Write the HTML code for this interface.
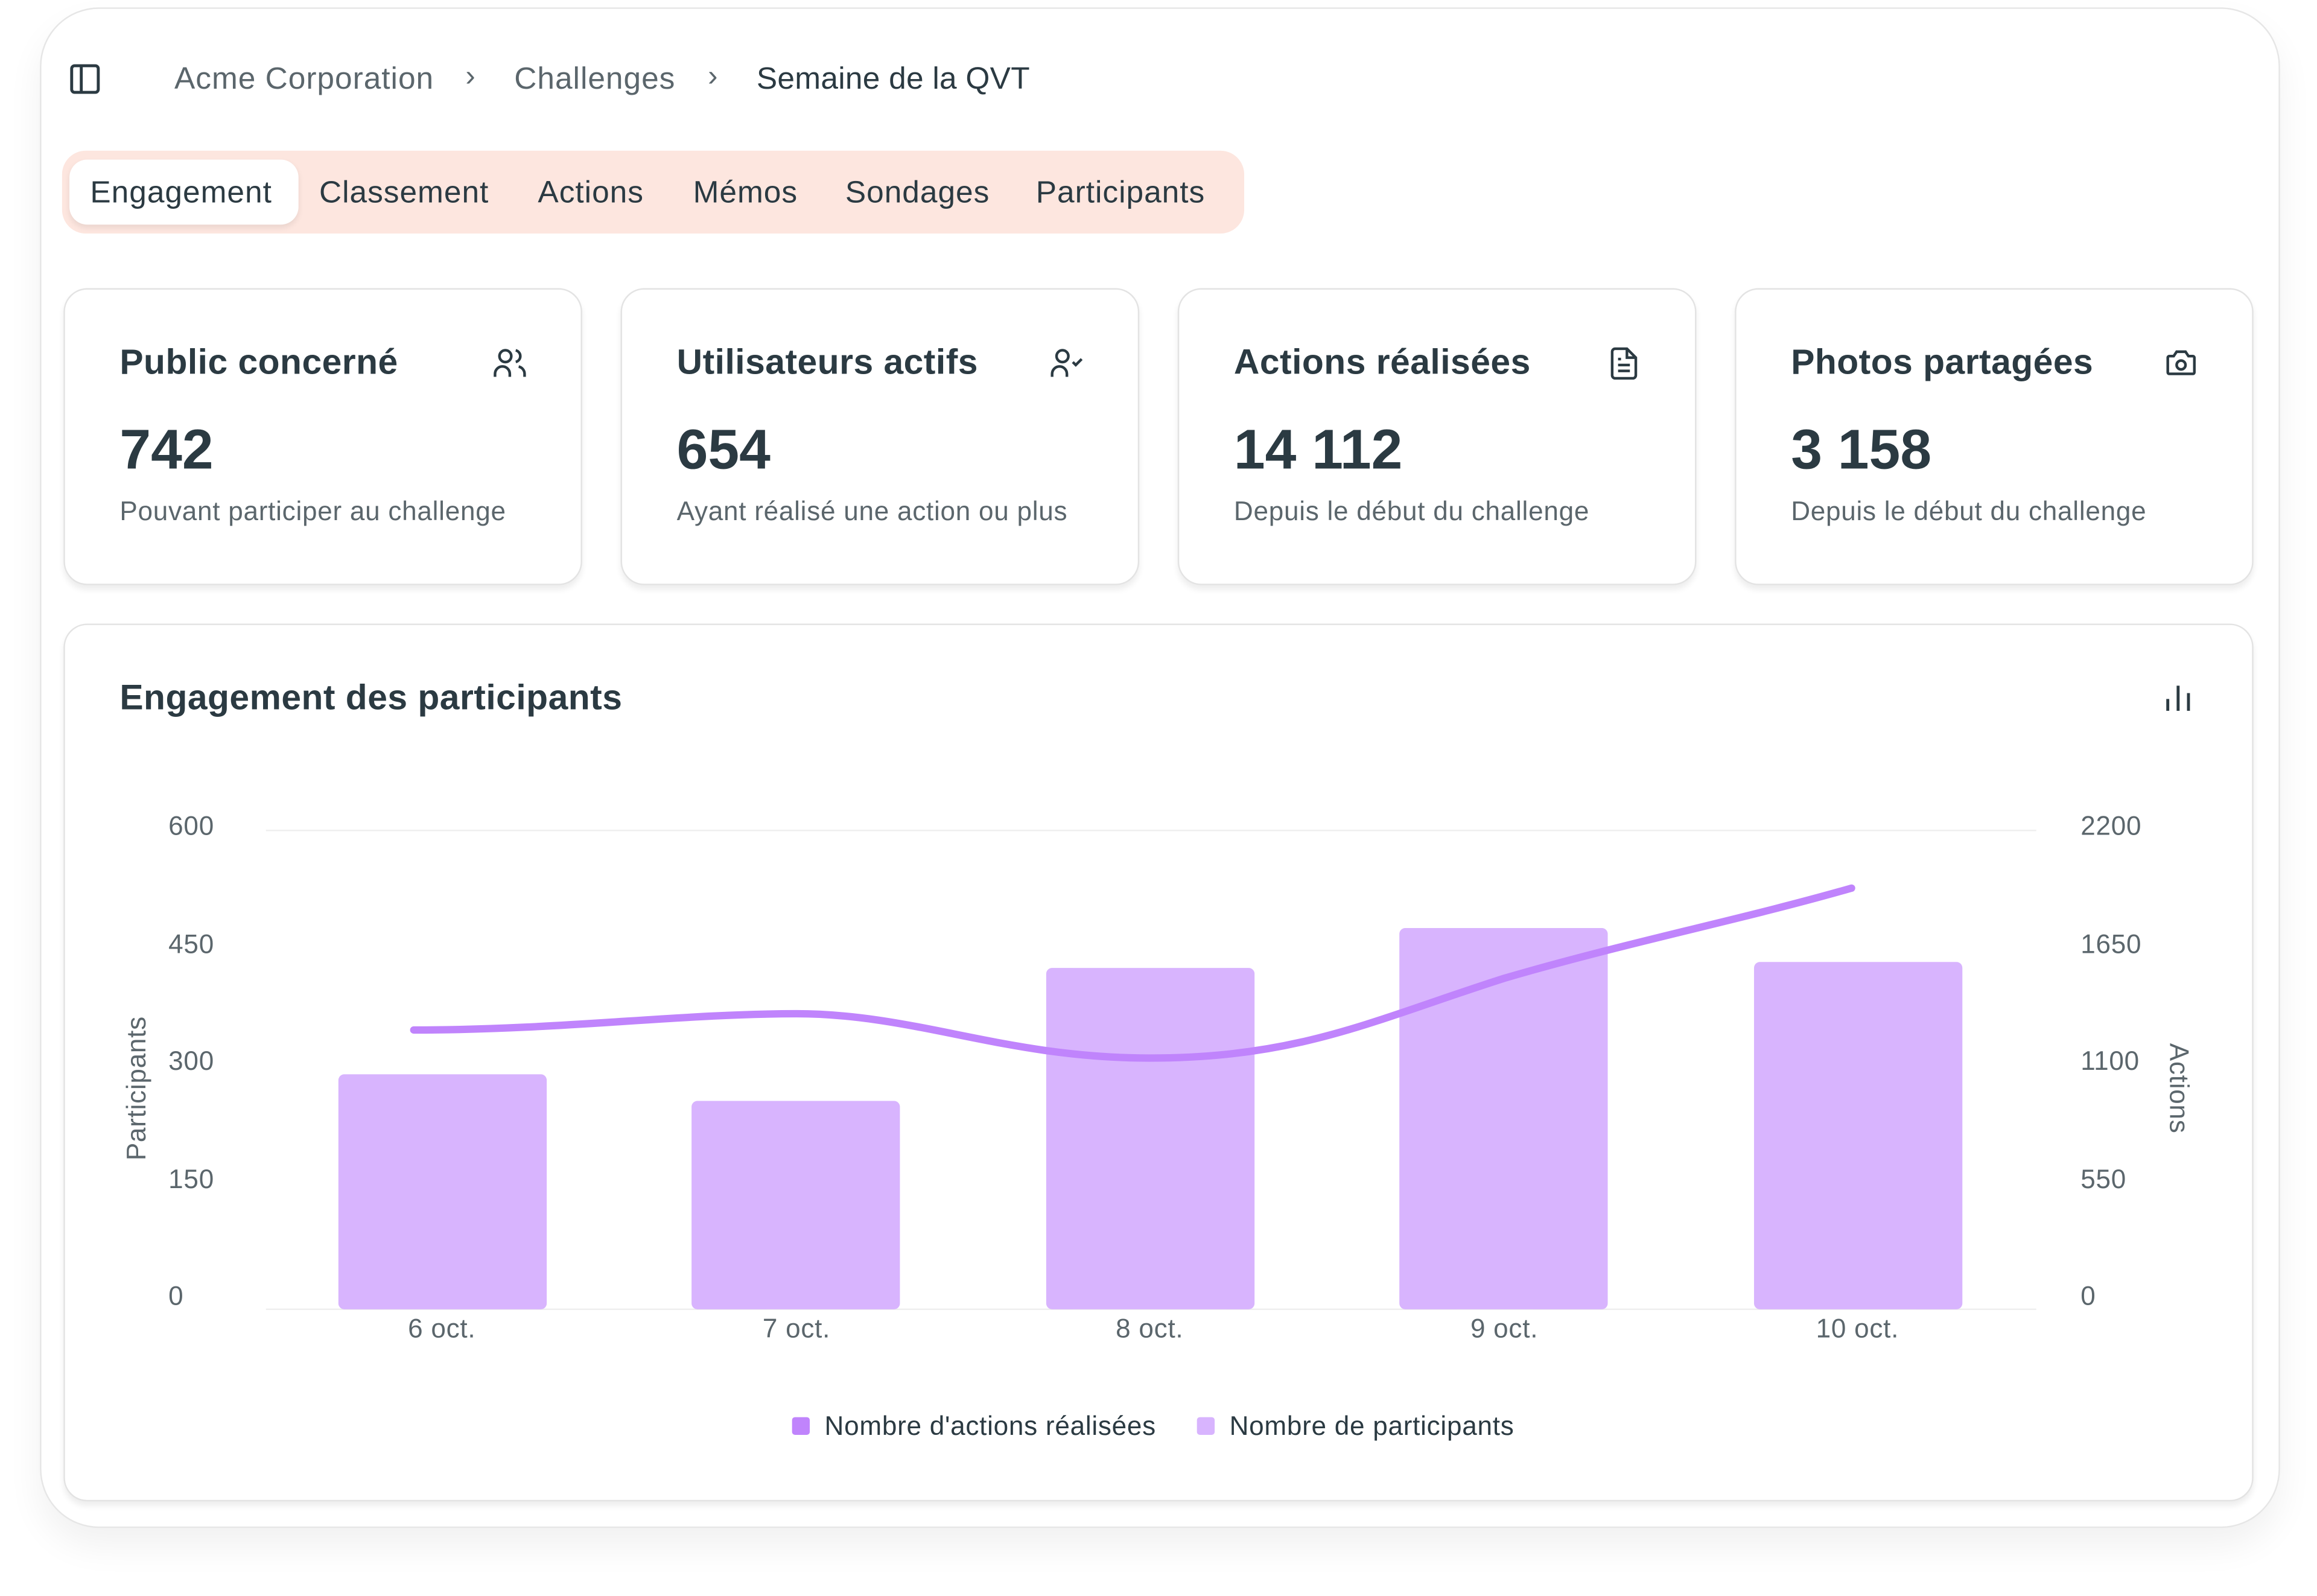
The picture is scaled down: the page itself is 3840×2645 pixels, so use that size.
<!DOCTYPE html>
<html><head><meta charset="utf-8"><style>
html,body{margin:0;padding:0;background:#fff;width:3840px;height:2645px;overflow:hidden}
#w{position:absolute;left:0;top:0;width:1568px;height:1080px;transform:scale(2.449);transform-origin:0 0;font-family:"Liberation Sans",sans-serif;color:#2b3a42}
.abs{position:absolute}
.outer{left:27px;top:5px;width:1514px;height:1027px;border-radius:40px;border:1.5px solid #e6e6e6;box-shadow:0 12px 24px rgba(0,0,0,0.06);background:#fff}
.card{position:absolute;border:1.5px solid #e3e3e3;border-radius:16px;background:#fff;box-shadow:0 3px 4px rgba(0,0,0,0.07)}
.kt{position:absolute;left:37px;top:36px;font-size:24px;font-weight:bold;color:#2b3a42;letter-spacing:0.2px}
.kv{position:absolute;left:37px;top:88px;font-size:38px;font-weight:bold;color:#2b3a42}
.ks{position:absolute;left:37px;top:140px;font-size:18px;color:#5b666c;letter-spacing:0.3px}
.ic{position:absolute;right:36px;top:38px}
.tab{position:absolute;top:119px;font-size:21px;color:#2b3a42;letter-spacing:0.4px}
.t{font-size:18px;color:#5b666c;position:absolute;letter-spacing:0.3px}
</style></head><body><div id="w">
<div class="abs outer"></div>
<svg class="abs" style="left:47px;top:43px" width="22" height="22" viewBox="0 0 22 22"><rect x="1.5" y="1.5" width="18" height="18" rx="2" fill="none" stroke="#2b3a42" stroke-width="2"/><line x1="8" y1="2" x2="8" y2="20" stroke="#2b3a42" stroke-width="2"/></svg>
<div class="abs" style="left:118px;top:42px;font-size:21px;color:#5b666c;letter-spacing:0.4px">Acme Corporation</div>
<div class="abs" style="left:315px;top:41px;font-size:20px;color:#5b666c">›</div>
<div class="abs" style="left:348px;top:42px;font-size:21px;color:#5b666c;letter-spacing:0.4px">Challenges</div>
<div class="abs" style="left:479px;top:41px;font-size:20px;color:#5b666c">›</div>
<div class="abs" style="left:512px;top:42px;font-size:21px;color:#2b3a42;letter-spacing:0.1px">Semaine de la QVT</div>
<div class="abs" style="left:42px;top:102px;width:800px;height:56px;border-radius:16px;background:#fde6df"></div>
<div class="abs" style="left:47px;top:108px;width:155px;height:44px;border-radius:12px;background:#fff;box-shadow:0 2px 4px rgba(0,0,0,0.08)"></div>
<div class="tab" style="left:61px">Engagement</div>
<div class="tab" style="left:216px">Classement</div>
<div class="tab" style="left:364px">Actions</div>
<div class="tab" style="left:469px">Mémos</div>
<div class="tab" style="left:572px">Sondages</div>
<div class="tab" style="left:701px">Participants</div>

<div class="card" style="left:43px;top:195px;width:349px;height:199px"><div class="kt">Public concerné</div><div class="kv">742</div><div class="ks">Pouvant participer au challenge</div>
<svg class="ic" width="24" height="24" viewBox="0 0 24 24" fill="none" stroke="#2b3a42" stroke-width="1.8"><circle cx="9" cy="7" r="4"/><path d="M2 21v-2a5 5 0 0 1 10 0v2M16 3.1a4 4 0 0 1 0 7.8M22 21v-2a5 5 0 0 0-4-4.9"/></svg></div>
<div class="card" style="left:420px;top:195px;width:349px;height:199px"><div class="kt">Utilisateurs actifs</div><div class="kv">654</div><div class="ks">Ayant réalisé une action ou plus</div>
<svg class="ic" width="24" height="24" viewBox="0 0 24 24" fill="none" stroke="#2b3a42" stroke-width="1.8"><circle cx="9" cy="7" r="4"/><path d="M2 21v-2a5 5 0 0 1 10 0v2M16 11l2 2 4-4"/></svg></div>
<div class="card" style="left:797px;top:195px;width:349px;height:199px"><div class="kt">Actions réalisées</div><div class="kv">14 112</div><div class="ks">Depuis le début du challenge</div>
<svg class="ic" width="24" height="24" viewBox="0 0 24 24" fill="none" stroke="#2b3a42" stroke-width="1.8"><path d="M14 2H6a2 2 0 0 0-2 2v16a2 2 0 0 0 2 2h12a2 2 0 0 0 2-2V8z"/><path d="M14 2v6h6M8 13h8M8 17h8M8 9h2"/></svg></div>
<div class="card" style="left:1174px;top:195px;width:349px;height:199px"><div class="kt">Photos partagées</div><div class="kv">3 158</div><div class="ks">Depuis le début du challenge</div>
<svg class="ic" width="24" height="24" viewBox="0 0 24 24" fill="none" stroke="#2b3a42" stroke-width="1.8"><path d="M4 7h3l2-3h6l2 3h3a1 1 0 0 1 1 1v10a1 1 0 0 1-1 1H4a1 1 0 0 1-1-1V8a1 1 0 0 1 1-1z"/><circle cx="12" cy="13" r="3"/></svg></div>

<div class="card" style="left:43px;top:422px;width:1480px;height:592px"></div>
<div class="abs" style="left:81px;top:459px;font-size:24px;font-weight:bold;letter-spacing:0.2px">Engagement des participants</div>
<svg class="abs" style="left:1464px;top:461px" width="22" height="22" viewBox="0 0 22 22" stroke="#2b3a42" stroke-width="2"><line x1="3" y1="20" x2="3" y2="12"/><line x1="10" y1="20" x2="10" y2="3"/><line x1="17" y1="20" x2="17" y2="8"/></svg>
<svg class="abs" style="left:0;top:0" width="1568" height="1080">
<g stroke="#eeeeee" stroke-width="1"><line x1="180" y1="562" x2="1378" y2="562"/><line x1="180" y1="886" x2="1378" y2="886"/></g>
<g fill="#d8b4fe">
<rect x="229" y="727" width="141" height="159" rx="4"/>
<rect x="468" y="745" width="141" height="141" rx="4"/>
<rect x="708" y="655" width="141" height="231" rx="4"/>
<rect x="947" y="628" width="141" height="258" rx="4"/>
<rect x="1187" y="651" width="141" height="235" rx="4"/>
</g>
<path d="M280 697 C380 697 460 686 539 686 C620 686 680 716 778 716 C880 716 930 690 1018 662 C1100 638 1180 622 1253 601" fill="none" stroke="#c084fc" stroke-width="5" stroke-linecap="round"/>
<rect x="536" y="959" width="12" height="12" rx="2" fill="#c084fc"/>
<rect x="810" y="959" width="12" height="12" rx="2" fill="#d8b4fe"/>
</svg>
<div class="t" style="left:114px;top:549px">600</div>
<div class="t" style="left:114px;top:629px">450</div>
<div class="t" style="left:114px;top:708px">300</div>
<div class="t" style="left:114px;top:788px">150</div>
<div class="t" style="left:114px;top:867px">0</div>
<div class="t" style="left:1408px;top:549px">2200</div>
<div class="t" style="left:1408px;top:629px">1650</div>
<div class="t" style="left:1408px;top:708px">1100</div>
<div class="t" style="left:1408px;top:788px">550</div>
<div class="t" style="left:1408px;top:867px">0</div>
<div class="t" style="left:33px;top:726px;width:120px;text-align:center;transform:rotate(-90deg)">Participants</div>
<div class="t" style="left:1424px;top:726px;width:100px;text-align:center;transform:rotate(90deg)">Actions</div>
<div class="t" style="left:249px;top:889px;width:100px;text-align:center">6 oct.</div>
<div class="t" style="left:489px;top:889px;width:100px;text-align:center">7 oct.</div>
<div class="t" style="left:728px;top:889px;width:100px;text-align:center">8 oct.</div>
<div class="t" style="left:968px;top:889px;width:100px;text-align:center">9 oct.</div>
<div class="t" style="left:1207px;top:889px;width:100px;text-align:center">10 oct.</div>
<div class="t" style="left:558px;top:955px;color:#2b3a42">Nombre d'actions réalisées</div>
<div class="t" style="left:832px;top:955px;color:#2b3a42">Nombre de participants</div>
</div></body></html>
